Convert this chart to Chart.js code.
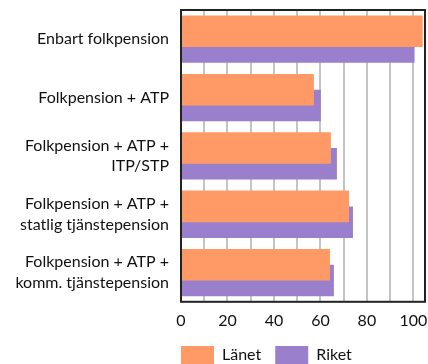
<!DOCTYPE html>
<html>
<head>
<meta charset="utf-8">
<script src="https://cdn.jsdelivr.net/npm/chart.js@4"></script>
<style>
  html, body { margin: 0; padding: 0; background: #fff; }
  #wrap { width: 428px; height: 364px; position: relative; }
</style>
</head>
<body>
<div id="wrap"><canvas id="chart"></canvas></div>
<script>
// Kategorier och värden
const categories = [
    'Enbart folkpension',
    'Folkpension + ATP',
    ['Folkpension + ATP +', 'ITP/STP'],
    ['Folkpension + ATP +', 'statlig tjänstepension'],
    ['Folkpension + ATP +', 'komm. tjänstepension']
];
const lanetValues = [104, 57.2, 64.5, 72.3, 64.1];
const riketValues = [100.5, 60.2, 67.1, 74.0, 65.8];
const tickLabels = [0, 20, 40, 60, 80, 100];

const FONT = 'Lato, "DejaVu Sans", sans-serif';

// Ram runt diagramytan
const frame = {
    id: 'frame',
    afterDraw(chart) {
        const { ctx, chartArea: a } = chart;
        ctx.save();
        ctx.strokeStyle = '#222';
        ctx.lineWidth = 2;
        ctx.strokeRect(a.left, a.top, a.right - a.left, a.bottom - a.top);
        ctx.restore();
    }
};

// flytta förklaringen så att den börjar vid diagramytans vänsterkant
const legendShift = {
    id: 'legendShift',
    afterLayout(chart) {
        const lg = chart.legend;
        if (!lg) return;
        lg.left -= 14;
        lg.right -= 14;
        lg.top -= 7;
        lg.bottom -= 7;
    }
};

// ingen extra marginal för etiketter i kanterna
const noEdgePadding = (scale) => {
    scale.paddingLeft = 0;
    scale.paddingRight = 0;
    scale.paddingTop = 0;
    scale.paddingBottom = 0;
};

new Chart(document.getElementById('chart'), {
    type: 'bar',
    data: {
        labels: categories,
        datasets: [
            {
                label: 'Länet',
                data: lanetValues,
                backgroundColor: '#ff9966',
                categoryPercentage: 0.54,
                barPercentage: 2.0
            },
            {
                label: 'Riket',
                data: riketValues,
                backgroundColor: '#9a80cc',
                categoryPercentage: 0.54,
                barPercentage: 2.0
            }
        ]
    },
    plugins: [frame, legendShift],
    options: {
        indexAxis: 'y',
        responsive: true,
        maintainAspectRatio: false,
        animation: false,
        layout: { padding: { top: 10, right: 3, left: 0, bottom: -17 } },
        plugins: {
            legend: {
                position: 'bottom',
                align: 'start',
                fullSize: false,
                labels: {
                    boxWidth: 33,
                    boxHeight: 18,
                    padding: 14,
                    color: '#111',
                    font: { family: FONT, size: 16 }
                }
            },
            tooltip: { enabled: false }
        },
        scales: {
            x: {
                min: 0,
                max: 105,
                afterBuildTicks: (scale) => {
                    scale.ticks = Array.from({ length: 11 }, (_, i) => ({ value: i * 10 }));
                },
                afterFit: noEdgePadding,
                grid: { color: '#c4c4c4', lineWidth: 2, drawTicks: false },
                border: { display: false },
                ticks: {
                    autoSkip: false,
                    maxRotation: 0,
                    padding: 9,
                    color: '#111',
                    font: { family: FONT, size: 16 },
                    callback: (v) => tickLabels.includes(v) ? String(v) : ''
                }
            },
            y: {
                grid: { display: false, drawTicks: false },
                border: { display: false },
                afterFit: (scale) => { noEdgePadding(scale); scale.width = 181; },
                ticks: {
                    padding: 12,
                    color: '#111',
                    font: { family: FONT, size: 16, lineHeight: 1.3 }
                }
            }
        }
    }
});
</script>
</body>
</html>
